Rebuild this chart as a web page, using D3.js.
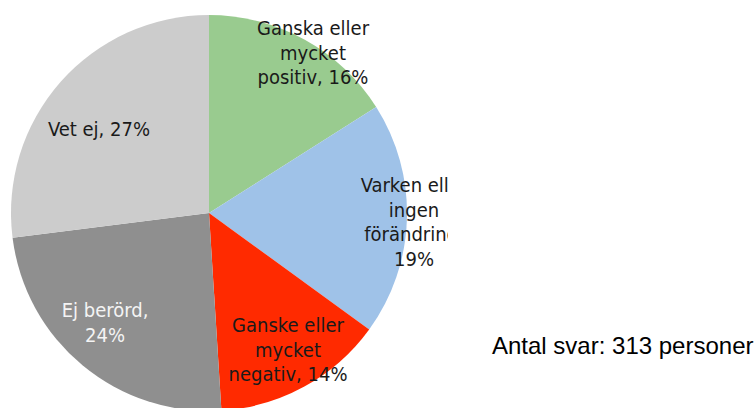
<!DOCTYPE html>
<html>
<head>
<meta charset="utf-8">
<script src="https://cdn.jsdelivr.net/npm/d3@7"></script>
<style>
  html, body { margin: 0; padding: 0; background: #fff; }
  svg { display: block; }
</style>
</head>
<body>
<div id="chart"></div>
<script>
const categories = ["Ganska eller mycket positiv", "Varken eller ingen förändring", "Ganske eller mycket negativ", "Ej berörd", "Vet ej"];
const shares = [16, 19, 14, 24, 27];
const labelLines = [
  ["Ganska eller", "mycket", "positiv, 16%"],
  ["Varken eller", "ingen", "förändring,", "19%"],
  ["Ganske eller", "mycket", "negativ, 14%"],
  ["Ej berörd,", "24%"],
  ["Vet ej, 27%"]
];
const colors = ["#99cb8f", "#9fc2e8", "#ff2a00", "#8f8f8f", "#cccccc"];
const textColors = ["#1a1a1a", "#1a1a1a", "#1a1a1a", "#f4f4f4", "#1a1a1a"];
// label anchor: centre x, first baseline y (placed by hand, like the original)
const labelPos = [[313, 35], [414, 192], [288, 332], [105, 317], [99, 136]];
const note = "Antal svar: 313 personer";

const width = 755, height = 408;
const cx = 209, cy = 213, r = 198;
const lineH = 24.6;

const svg = d3.select("#chart").append("svg").attr("width", width).attr("height", height);

const pie = d3.pie().sort(null).value(d => d);
const arc = d3.arc().innerRadius(0).outerRadius(r);
const arcs = pie(shares);

const g = svg.append("g").attr("transform", `translate(${cx},${cy})`);
g.selectAll("path").data(arcs).join("path")
  .attr("d", arc)
  .attr("fill", (d, i) => colors[i]);

// the original cuts the labels off at the right of the plot area
svg.append("clipPath").attr("id", "lblclip")
  .append("rect").attr("x", 0).attr("y", 0).attr("width", 448).attr("height", height);

const labels = svg.append("g").attr("clip-path", "url(#lblclip)")
  .attr("font-family", "'DejaVu Sans Condensed', 'DejaVu Sans', sans-serif")
  .style("font-stretch", "condensed")
  .attr("font-size", 20)
  .attr("text-anchor", "middle");

labels.selectAll("text").data(categories).join("text")
  .attr("fill", (d, i) => textColors[i])
  .each(function(d, i) {
    const t = d3.select(this);
    labelLines[i].forEach((line, j) => {
      t.append("tspan").attr("x", labelPos[i][0]).attr("y", labelPos[i][1] + j * lineH).text(line);
    });
  });

svg.append("text")
  .attr("x", 492).attr("y", 354)
  .attr("font-family", "'Liberation Sans', Arial, sans-serif")
  .attr("font-size", 24)
  .attr("fill", "#000")
  .text(note);
</script>
</body>
</html>
